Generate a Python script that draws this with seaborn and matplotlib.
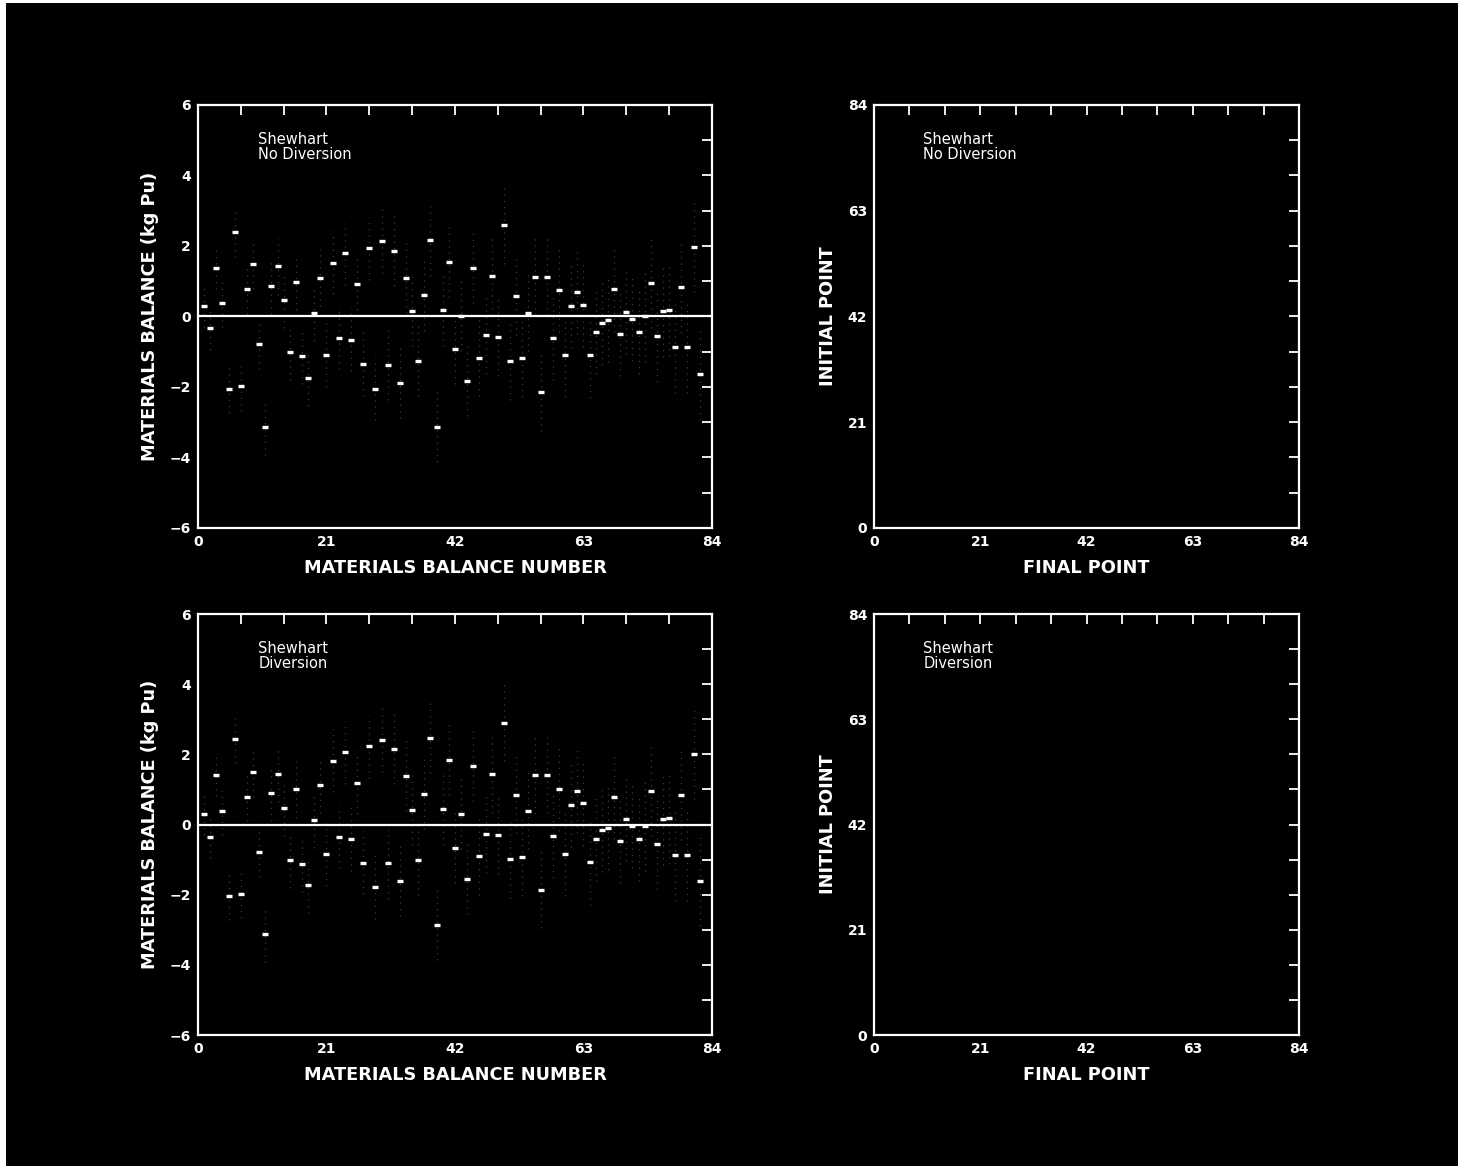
import numpy as np
import pandas as pd
import matplotlib
matplotlib.use("Agg")
import matplotlib.pyplot as plt
import seaborn as sns
from matplotlib.ticker import MultipleLocator

# materials balance number (1..82)
mb_number = list(range(1, 83))

# Shewhart, no diversion (kg Pu)
mb_no_div = [0.30, -0.34, 1.38, 0.39, -2.05, 2.39, -1.98, 0.77, 1.48, -0.79,
             -3.13, 0.87, 1.42, 0.46, -1.00, 0.98, -1.13, -1.75, 0.09, 1.10,
             -1.09, 1.53, -0.60, 1.79, -0.66, 0.91, -1.35, 1.93, -2.05, 2.14,
             -1.37, 1.86, -1.88, 1.09, 0.15, -1.26, 0.60, 2.16, -3.14, 0.17,
             1.55, -0.93, 0.01, -1.82, 1.38, -1.17, -0.53, 1.14, -0.58, 2.59,
             -1.27, 0.58, -1.19, 0.11, 1.13, -2.14, 1.13, -0.61, 0.75, -1.08,
             0.31, 0.70, 0.32, -1.10, -0.43, -0.18, -0.09, 0.77, -0.49, 0.13,
             -0.06, -0.43, 0.00, 0.96, -0.56, 0.15, 0.17, -0.88, 0.84, -0.87,
             1.98, -1.63]

# Shewhart, diversion (kg Pu)
mb_div = [0.29, -0.36, 1.41, 0.39, -2.03, 2.44, -1.97, 0.79, 1.49, -0.79,
          -3.12, 0.89, 1.44, 0.46, -1.00, 1.00, -1.12, -1.73, 0.12, 1.12,
          -0.85, 1.82, -0.35, 2.06, -0.41, 1.19, -1.09, 2.23, -1.78, 2.41,
          -1.11, 2.16, -1.61, 1.38, 0.42, -1.00, 0.87, 2.46, -2.87, 0.43,
          1.83, -0.66, 0.31, -1.54, 1.68, -0.90, -0.27, 1.43, -0.30, 2.90,
          -0.99, 0.85, -0.93, 0.39, 1.41, -1.86, 1.42, -0.33, 1.01, -0.84,
          0.57, 0.97, 0.60, -1.08, -0.41, -0.16, -0.09, 0.79, -0.47, 0.15,
          -0.05, -0.41, -0.03, 0.96, -0.55, 0.16, 0.18, -0.87, 0.85, -0.87,
          2.02, -1.60]

# half-length of the faint dotted uncertainty bars (kg Pu)
mb_sigma = [0.6, 0.6, 0.6, 0.7, 0.7, 0.7, 0.7, 0.7, 0.7, 0.7,
            0.8, 0.8, 0.8, 0.8, 0.8, 0.8, 0.8, 0.8, 0.8, 0.8,
            0.9, 0.9, 0.9, 0.9, 0.9, 0.9, 0.9, 0.9, 0.9, 0.9,
            1.0, 1.0, 1.0, 1.0, 1.0, 1.0, 1.0, 1.0, 1.0, 1.0,
            1.0, 1.0, 1.0, 1.0, 1.0, 1.1, 1.1, 1.1, 1.1, 1.1,
            1.1, 1.1, 1.1, 1.1, 1.1, 1.1, 1.1, 1.2, 1.2, 1.2,
            1.2, 1.2, 1.2, 1.2, 1.2, 1.2, 1.2, 1.2, 1.2, 1.2,
            1.2, 1.2, 1.3, 1.3, 1.3, 1.3, 1.3, 1.3, 1.3, 1.3,
            1.3, 1.3]

panel_notes = ["Shewhart\nNo Diversion", "Shewhart\nDiversion"]
mb_ticks = [0, 21, 42, 63, 84]
balance_ticks = [-6, -4, -2, 0, 2, 4, 6]

sns.set_style("dark")
plt.rcParams["font.family"] = ["DejaVu Sans"]

fig = plt.figure(figsize=(14.58, 11.66), dpi=100, facecolor="black")

# white scan edges (top and left)
for rect in [(0, 0.997, 1, 0.003), (0, 0, 0.004, 1)]:
    fig.patches.append(plt.Rectangle(rect[:2], rect[2], rect[3], transform=fig.transFigure,
                                     facecolor="white", edgecolor="none", zorder=-1))

left_boxes = [[0.1358, 0.5472, 0.3525, 0.3628], [0.1358, 0.1123, 0.3525, 0.3611]]
right_boxes = [[0.5995, 0.5472, 0.2915, 0.3628], [0.5995, 0.1123, 0.2915, 0.3611]]


def style_axes(ax):
    ax.set_facecolor("black")
    for sp in ax.spines.values():
        sp.set_color("white")
        sp.set_linewidth(1.6)
        sp.set_visible(True)
    ax.grid(False)
    ax.tick_params(which="both", direction="in", top=True, right=True,
                   color="white", labelcolor="white", labelsize=10, pad=5)
    ax.tick_params(which="major", length=7, width=1.3)
    ax.tick_params(which="minor", length=7, width=1.3)
    for lab in ax.get_xticklabels() + ax.get_yticklabels():
        lab.set_fontweight("bold")


for i, box in enumerate(left_boxes):
    ax = fig.add_axes(box)
    vals = mb_no_div if i == 0 else mb_div
    df = pd.DataFrame({"mb": mb_number, "balance": vals, "sigma": mb_sigma})

    eb = ax.errorbar(df["mb"], df["balance"], yerr=df["sigma"], fmt="none",
                     ecolor="#3c3c3c", elinewidth=0.9, capsize=0, zorder=1)
    eb[2][0].set_linestyle((0, (1, 4)))

    ax.axhline(0, color="white", lw=1.6, zorder=2)
    sns.scatterplot(data=df, x="mb", y="balance", ax=ax, marker="_", s=22,
                    color="white", linewidth=2.4, zorder=3, legend=False)

    ax.set_xlim(0, 84)
    ax.set_ylim(-6, 6)
    ax.set_xticks(mb_ticks)
    ax.set_yticks(balance_ticks)
    ax.xaxis.set_minor_locator(MultipleLocator(7))
    ax.yaxis.set_minor_locator(MultipleLocator(1))
    ax.set_xlabel("MATERIALS BALANCE NUMBER", color="white", fontsize=12.8,
                  fontweight="bold", labelpad=7)
    ax.set_ylabel("MATERIALS BALANCE (kg Pu)", color="white", fontsize=12.8,
                  fontweight="bold", labelpad=8)
    ax.text(0.117, 0.935, panel_notes[i], transform=ax.transAxes, color="white",
            fontsize=10.5, va="top", ha="left", linespacing=1.0)
    style_axes(ax)

for i, box in enumerate(right_boxes):
    ax = fig.add_axes(box)
    ax.set_xlim(0, 84)
    ax.set_ylim(0, 84)
    ax.set_xticks(mb_ticks)
    ax.set_yticks(mb_ticks)
    ax.xaxis.set_minor_locator(MultipleLocator(7))
    ax.yaxis.set_minor_locator(MultipleLocator(7))
    ax.set_xlabel("FINAL POINT", color="white", fontsize=12.8,
                  fontweight="bold", labelpad=7)
    ax.set_ylabel("INITIAL POINT", color="white", fontsize=12.8,
                  fontweight="bold", labelpad=8)
    ax.text(0.116, 0.935, panel_notes[i], transform=ax.transAxes, color="white",
            fontsize=10.5, va="top", ha="left", linespacing=1.0)
    style_axes(ax)

fig.savefig("out.png", dpi=100, facecolor="black")
